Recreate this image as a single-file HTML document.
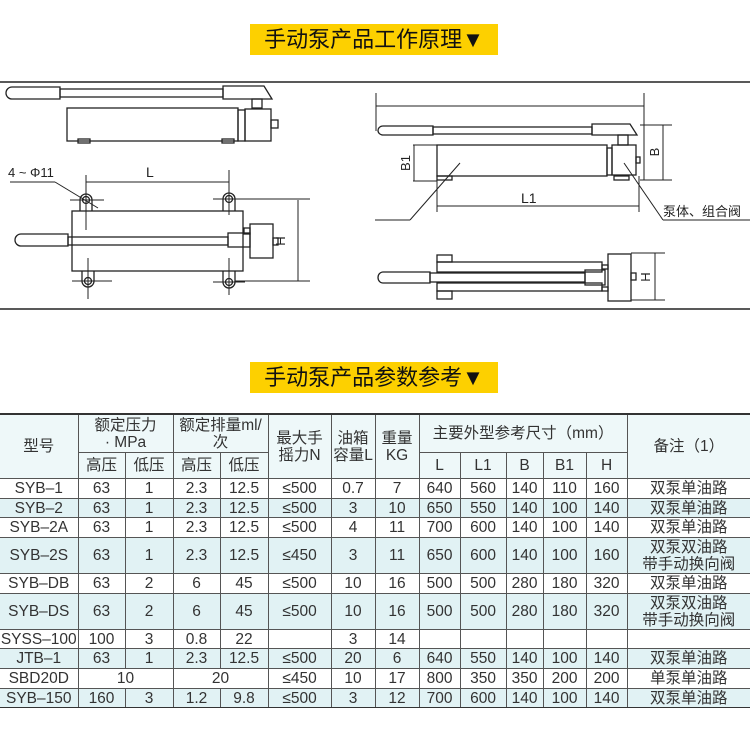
<!DOCTYPE html>
<html><head><meta charset="utf-8"><style>
body{margin:0;width:750px;height:736px;background:#fff;position:relative;overflow:hidden;font-family:"Liberation Sans","Noto Sans CJK SC",sans-serif;color:#333}
.t{position:absolute;left:250px;width:248px;height:31px;background:#fdd000;font-size:22px;line-height:31px;text-align:center;color:#111;font-family:"Liberation Sans","Noto Sans CJK SC",sans-serif}
table{position:absolute;left:0;top:413px;width:750px;border-collapse:collapse;table-layout:fixed;font-size:15.5px}
td{border:1px solid #555;text-align:center;padding:1px 0 0 0;line-height:17px;overflow:hidden;white-space:nowrap}
tr.s td{background:#e1f2f4}
tr.h td{background:#eef8f9}
table tr td:first-child{border-left:none}
table tr td:last-child{border-right:none}
tr:first-child td{border-top:2px solid #333}
tr:last-child td{border-bottom:1.5px solid #333}
</style></head><body>
<div class="t" style="top:24px">手动泵产品工作原理▼</div>
<div class="t" style="top:362px">手动泵产品参数参考▼</div>
<svg style="position:absolute;left:0;top:0" width="750" height="320" fill="none" stroke="#222" stroke-width="1.3">
<line x1="0" y1="82" x2="750" y2="82" stroke-width="1.6"/>
<line x1="0" y1="309" x2="750" y2="309" stroke-width="1.6"/>
<path d="M12 87 H60 V99 H12 A6 6 0 0 1 12 87 Z"/>
<rect x="60" y="89" width="163" height="8"/>
<path d="M223 86 H264 L272 99 H223 Z"/>
<rect x="252" y="99" width="10" height="9"/>
<rect x="67" y="108" width="171" height="33"/>
<rect x="238" y="110" width="7" height="31"/>
<rect x="245" y="109" width="26" height="32"/>
<rect x="271" y="120" width="7" height="8"/>
<rect x="78" y="139" width="12" height="4"/><rect x="222" y="139" width="12" height="4"/>
<rect x="72" y="211" width="171" height="60"/>
<path d="M80 211 V200 A6 6 0 0 1 92 200 V211"/><circle cx="86" cy="200" r="3.5"/>
<path d="M223 211 V199 A6 6 0 0 1 235 199 V211"/><circle cx="229" cy="199" r="3.5"/>
<path d="M82 271 V281 A6 6 0 0 0 94 281 V271"/><circle cx="88" cy="281" r="3.5"/>
<path d="M223 271 V282 A6 6 0 0 0 235 282 V271"/><circle cx="229" cy="282" r="3.5"/>
<g stroke-width="1"><line x1="70" y1="200" x2="104" y2="200"/><line x1="86" y1="175" x2="86" y2="230"/>
<line x1="213" y1="199" x2="245" y2="199"/><line x1="229" y1="170" x2="229" y2="215"/>
<line x1="72" y1="281" x2="112" y2="281"/><line x1="88" y1="258" x2="88" y2="299"/>
<line x1="213" y1="282" x2="245" y2="282"/><line x1="229" y1="258" x2="229" y2="295"/>
<line x1="86" y1="182" x2="229" y2="182"/>
<line x1="10" y1="182" x2="55" y2="182"/><line x1="55" y1="182" x2="98" y2="208"/>
<line x1="298" y1="200" x2="298" y2="281"/><line x1="235" y1="199" x2="310" y2="199"/><line x1="235" y1="281" x2="310" y2="281"/></g>
<path d="M21 234 H68 V246 H21 A6 6 0 0 1 21 234 Z"/>
<rect x="68" y="237" width="160" height="8"/>
<rect x="228" y="233" width="22" height="14"/>
<rect x="250" y="224" width="23" height="34"/>
<rect x="244" y="228" width="6" height="6"/>
<rect x="273" y="238" width="5" height="7"/>
<g stroke-width="1"><line x1="376" y1="106" x2="644" y2="106"/><line x1="376" y1="93" x2="376" y2="131"/><line x1="644" y1="93" x2="644" y2="180"/>
<line x1="414" y1="145" x2="414" y2="181"/><line x1="413" y1="145" x2="437" y2="145"/><line x1="413" y1="181" x2="437" y2="181"/>
<line x1="663" y1="125" x2="663" y2="180"/><line x1="640" y1="125" x2="672" y2="125"/><line x1="640" y1="180" x2="672" y2="180"/>
<line x1="437" y1="206" x2="639" y2="206"/><line x1="437" y1="176" x2="437" y2="212"/><line x1="639" y1="176" x2="639" y2="212"/>
<line x1="460" y1="163" x2="410" y2="220"/><line x1="410" y1="220" x2="375" y2="220"/>
<line x1="624" y1="163" x2="663" y2="220"/><line x1="663" y1="220" x2="750" y2="220"/></g>
<path d="M383 126 H433 V135 H383 A5 4.5 0 0 1 383 126 Z"/>
<rect x="433" y="127" width="159" height="7"/>
<path d="M592 124 H630 L637 135 H592 Z"/>
<rect x="618" y="135" width="10" height="10"/>
<rect x="437" y="145" width="170" height="31"/>
<rect x="607" y="148" width="5" height="27"/>
<rect x="612" y="145" width="24" height="30"/>
<rect x="636" y="157" width="4" height="6"/>
<rect x="437" y="176" width="15" height="4"/><rect x="614" y="176" width="15" height="4"/>
<rect x="437" y="255" width="15" height="7"/><rect x="437" y="291" width="15" height="8"/>
<rect x="437" y="262" width="165" height="10"/><rect x="437" y="283" width="165" height="8"/>
<path d="M383 272 H430 V283 H383 A5 5.5 0 0 1 383 272 Z"/>
<rect x="430" y="273" width="155" height="9"/>
<rect x="585" y="270" width="20" height="15"/>
<rect x="608" y="254" width="23" height="47"/>
<rect x="602" y="265" width="6" height="4"/><rect x="602" y="287" width="6" height="4"/>
<rect x="631" y="273" width="5" height="7"/>
<g stroke-width="1"><line x1="655" y1="253" x2="655" y2="300"/><line x1="631" y1="253" x2="665" y2="253"/><line x1="631" y1="300" x2="665" y2="300"/></g>
<g fill="#222" stroke="none" font-family="Liberation Sans,Noto Sans CJK SC,sans-serif" font-size="13">
<text x="8" y="177">4 ~ Φ11</text>
<text x="146" y="177" font-size="14">L</text>
<text x="0" y="0" transform="translate(285,241) rotate(-90)" text-anchor="middle">H</text>
<text x="0" y="0" transform="translate(410,163) rotate(-90)" text-anchor="middle">B1</text>
<text x="0" y="0" transform="translate(659,152) rotate(-90)" text-anchor="middle">B</text>
<text x="521" y="203" font-size="14">L1</text>
<text x="663" y="216" font-size="13">泵体、组合阀</text>
<text x="0" y="0" transform="translate(650,277) rotate(-90)" text-anchor="middle">H</text>
</g>
</svg>
<table>
<colgroup><col style="width:78px"><col style="width:47px"><col style="width:48px"><col style="width:47px"><col style="width:48px"><col style="width:63px"><col style="width:44px"><col style="width:44px"><col style="width:41px"><col style="width:46px"><col style="width:37px"><col style="width:43px"><col style="width:41px"><col style="width:123px"></colgroup>
<tr class="h" style="height:38px"><td rowspan="2">型号</td><td colspan="2">额定压力<br>· MPa</td><td colspan="2">额定排量ml/<br>次</td><td rowspan="2">最大手<br>摇力N</td><td rowspan="2">油箱<br>容量L</td><td rowspan="2">重量<br>KG</td><td colspan="5">主要外型参考尺寸（mm）</td><td rowspan="2">备注（1）</td></tr>
<tr class="h" style="height:26px"><td>高压</td><td>低压</td><td>高压</td><td>低压</td><td>L</td><td>L1</td><td>B</td><td>B1</td><td>H</td></tr>
<tr style="height:20px"><td>SYB–1</td><td>63</td><td>1</td><td>2.3</td><td>12.5</td><td>≤500</td><td>0.7</td><td>7</td><td>640</td><td>560</td><td>140</td><td>110</td><td>160</td><td>双泵单油路</td></tr>
<tr class="s" style="height:19px"><td>SYB–2</td><td>63</td><td>1</td><td>2.3</td><td>12.5</td><td>≤500</td><td>3</td><td>10</td><td>650</td><td>550</td><td>140</td><td>100</td><td>140</td><td>双泵单油路</td></tr>
<tr style="height:20px"><td>SYB–2A</td><td>63</td><td>1</td><td>2.3</td><td>12.5</td><td>≤500</td><td>4</td><td>11</td><td>700</td><td>600</td><td>140</td><td>100</td><td>140</td><td>双泵单油路</td></tr>
<tr class="s" style="height:36px"><td>SYB–2S</td><td>63</td><td>1</td><td>2.3</td><td>12.5</td><td>≤450</td><td>3</td><td>11</td><td>650</td><td>600</td><td>140</td><td>100</td><td>160</td><td>双泵双油路<br>带手动换向阀</td></tr>
<tr style="height:20px"><td>SYB–DB</td><td>63</td><td>2</td><td>6</td><td>45</td><td>≤500</td><td>10</td><td>16</td><td>500</td><td>500</td><td>280</td><td>180</td><td>320</td><td>双泵单油路</td></tr>
<tr class="s" style="height:36px"><td>SYB–DS</td><td>63</td><td>2</td><td>6</td><td>45</td><td>≤500</td><td>10</td><td>16</td><td>500</td><td>500</td><td>280</td><td>180</td><td>320</td><td>双泵双油路<br>带手动换向阀</td></tr>
<tr style="height:19px"><td>SYSS–100</td><td>100</td><td>3</td><td>0.8</td><td>22</td><td></td><td>3</td><td>14</td><td></td><td></td><td></td><td></td><td></td><td></td></tr>
<tr class="s" style="height:20px"><td>JTB–1</td><td>63</td><td>1</td><td>2.3</td><td>12.5</td><td>≤500</td><td>20</td><td>6</td><td>640</td><td>550</td><td>140</td><td>100</td><td>140</td><td>双泵单油路</td></tr>
<tr style="height:20px"><td>SBD20D</td><td colspan="2">10</td><td colspan="2">20</td><td>≤450</td><td>10</td><td>17</td><td>800</td><td>350</td><td>350</td><td>200</td><td>200</td><td>单泵单油路</td></tr>
<tr class="s" style="height:19px"><td>SYB–150</td><td>160</td><td>3</td><td>1.2</td><td>9.8</td><td>≤500</td><td>3</td><td>12</td><td>700</td><td>600</td><td>140</td><td>100</td><td>140</td><td>双泵单油路</td></tr>
</table>
</body></html>
